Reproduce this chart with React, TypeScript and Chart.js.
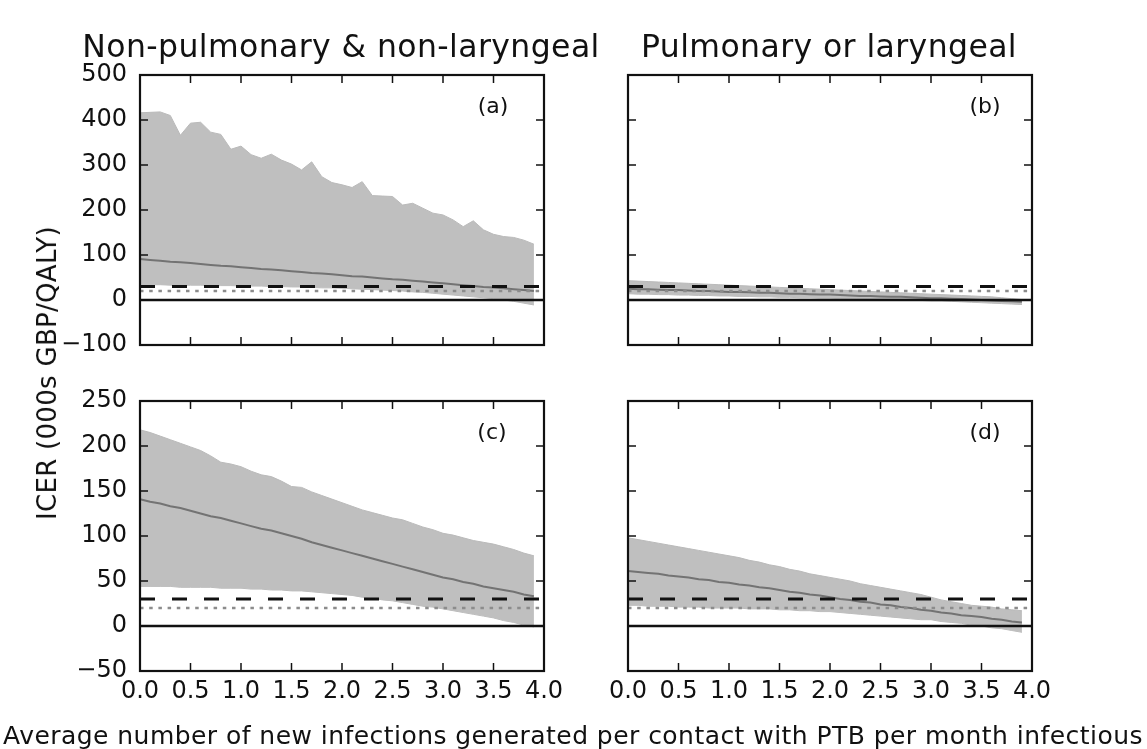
import React, { useEffect, useRef } from "react";
import { Chart, registerables } from "chart.js";

Chart.register(...registerables);

const FONT = "'DejaVu Sans', sans-serif";
const W = 1147;
const H = 749;

// ---- data ----
const xs = [0, 0.1, 0.2, 0.3, 0.4, 0.5, 0.6, 0.7, 0.8, 0.9, 1.0, 1.1, 1.2, 1.3, 1.4, 1.5, 1.6, 1.7, 1.8, 1.9,
  2.0, 2.1, 2.2, 2.3, 2.4, 2.5, 2.6, 2.7, 2.8, 2.9, 3.0, 3.1, 3.2, 3.3, 3.4, 3.5, 3.6, 3.7, 3.8, 3.9];

const aUpper = [416, 417, 418, 410, 366, 393, 395, 373, 368, 335, 342, 323, 315, 324, 311, 302, 289, 307, 274, 261,
  256, 250, 263, 232, 231, 230, 211, 215, 204, 193, 189, 178, 163, 176, 156, 146, 141, 139, 133, 124];
const aLower = [34, 34, 34, 33, 33, 33, 33, 32, 32, 32, 31, 31, 31, 30, 30, 29, 29, 28, 27, 27,
  26, 25, 24, 23, 22, 21, 20, 18, 17, 15, 13, 11, 9, 7, 5, 3, 0, -3, -7, -11];
const aMean = [91, 89, 87, 85, 84, 82, 80, 78, 76, 75, 73, 71, 69, 68, 66, 64, 62, 60, 59, 57,
  55, 53, 52, 50, 48, 46, 45, 43, 41, 39, 37, 35, 33, 31, 29, 28, 26, 24, 22, 20];

const bUpper = [43, 42, 41, 40, 39, 38, 37, 36, 35, 34, 33, 32, 31, 30, 29, 28, 27, 26, 25, 24,
  23, 22, 21, 20, 19, 18, 17, 16, 15, 14, 13, 12, 11, 10, 9, 8, 7, 5, 3, 1];
const bLower = [14, 13, 13, 12, 12, 11, 11, 10, 10, 9, 9, 8, 8, 7, 7, 6, 6, 5, 5, 4,
  4, 3, 3, 2, 2, 1, 1, 0, 0, -1, -2, -2, -3, -4, -5, -6, -7, -8, -9, -10];
const bMean = [25, 24, 24, 23, 22, 22, 21, 20, 20, 19, 18, 18, 17, 16, 16, 15, 14, 14, 13, 12,
  12, 11, 10, 9, 9, 8, 7, 7, 6, 5, 4, 4, 3, 2, 1, 0, -1, -2, -3, -4];

const cUpper = [218, 215, 211, 207, 203, 199, 195, 189, 182, 180, 177, 172, 168, 166, 161, 155, 154, 149, 145, 141,
  137, 133, 129, 126, 123, 120, 118, 114, 110, 107, 103, 101, 98, 95, 93, 91, 88, 85, 81, 78];
const cLower = [44, 44, 44, 44, 43, 43, 43, 43, 42, 42, 42, 41, 41, 40, 40, 39, 39, 38, 37, 36,
  35, 34, 32, 31, 29, 28, 26, 24, 22, 21, 19, 17, 15, 13, 11, 9, 6, 4, 1, -1];
const cMean = [141, 138, 136, 133, 131, 128, 125, 122, 120, 117, 114, 111, 108, 106, 103, 100, 97, 93, 90, 87,
  84, 81, 78, 75, 72, 69, 66, 63, 60, 57, 54, 52, 49, 47, 44, 42, 40, 38, 35, 33];

const dUpper = [98, 96, 94, 92, 90, 88, 86, 84, 82, 80, 78, 76, 73, 71, 68, 66, 63, 61, 58, 56,
  54, 52, 50, 47, 45, 43, 41, 39, 37, 35, 32, 29, 27, 25, 23, 22, 21, 19, 18, 17];
const dLower = [23, 23, 22, 22, 22, 21, 21, 21, 20, 20, 20, 20, 19, 19, 19, 18, 18, 17, 17, 16,
  16, 15, 14, 13, 12, 11, 10, 9, 8, 7, 7, 5, 4, 3, 1, 0, -2, -3, -5, -7];
const dMean = [61, 60, 59, 58, 56, 55, 54, 52, 51, 49, 48, 46, 45, 43, 42, 40, 38, 37, 35, 34,
  32, 30, 29, 27, 26, 24, 23, 21, 20, 18, 17, 15, 14, 12, 11, 10, 8, 7, 5, 4];

const thresholdDashed = 30; // £30k/QALY
const thresholdDotted = 20; // £20k/QALY
const xRange = [0, 4];
const topYRange = [-100, 500];
const bottomYRange = [-50, 250];
const topYStep = 100;
const bottomYStep = 50;
const xStep = 0.5;

const titles = ["Non-pulmonary & non-laryngeal", "Pulmonary or laryngeal"];
const panelLabels = ["(a)", "(b)", "(c)", "(d)"];
const yTitle = "ICER (000s GBP/QALY)";
const xTitle = "Average number of new infections generated per contact with PTB per month infectious";

// ---- layout ----
const YW = 110;
type Area = { left: number; top: number; right: number; bottom: number };
type Panel = {
  area: Area;
  upper: number[];
  lower: number[];
  mean: number[];
  yRange: number[];
  yStep: number;
  showX: boolean;
  showY: boolean;
};

const panels: Panel[] = [
  { area: { left: 140, top: 75, right: 544, bottom: 345 }, upper: aUpper, lower: aLower, mean: aMean, yRange: topYRange, yStep: topYStep, showX: false, showY: true },
  { area: { left: 628, top: 75, right: 1032, bottom: 345 }, upper: bUpper, lower: bLower, mean: bMean, yRange: topYRange, yStep: topYStep, showX: false, showY: false },
  { area: { left: 140, top: 401, right: 544, bottom: 671 }, upper: cUpper, lower: cLower, mean: cMean, yRange: bottomYRange, yStep: bottomYStep, showX: true, showY: true },
  { area: { left: 628, top: 401, right: 1032, bottom: 671 }, upper: dUpper, lower: dLower, mean: dMean, yRange: bottomYRange, yStep: bottomYStep, showX: true, showY: false },
];

const pts = (arr: number[]) => xs.map((x, i) => ({ x, y: arr[i] }));
const flat = (v: number) => [{ x: xRange[0], y: v }, { x: xRange[1], y: v }];
const fmtNum = (v: number) => (v < 0 ? "\u2212" + Math.abs(v) : String(v));

const framePlugin = {
  id: "frame",
  afterDatasetsDraw(chart: any) {
    const { ctx, chartArea: a, scales } = chart;
    const TL = 8;
    ctx.save();
    ctx.strokeStyle = "#111";
    ctx.lineWidth = 1.5;
    const line = (x1: number, y1: number, x2: number, y2: number) => {
      ctx.beginPath();
      ctx.moveTo(x1, y1);
      ctx.lineTo(x2, y2);
      ctx.stroke();
    };
    scales.x.ticks.forEach((t: any) => {
      const px = scales.x.getPixelForValue(t.value);
      if (px <= a.left + 1 || px >= a.right - 1) return;
      line(px, a.top, px, a.top + TL);
      line(px, a.bottom, px, a.bottom - TL);
    });
    scales.y.ticks.forEach((t: any) => {
      const py = scales.y.getPixelForValue(t.value);
      if (py <= a.top + 1 || py >= a.bottom - 1) return;
      line(a.left, py, a.left + TL, py);
      line(a.right, py, a.right - TL, py);
    });
    ctx.lineWidth = 2.2;
    ctx.strokeRect(a.left, a.top, a.right - a.left, a.bottom - a.top);
    ctx.restore();
  },
};

function makeConfig(p: Panel): any {
  const XH = p.showX ? 40 : 0;
  return {
    type: "line",
    data: {
      datasets: [
        { data: flat(0), borderColor: "#111", borderWidth: 2.5, pointRadius: 0, fill: false, order: 1 },
        { data: flat(thresholdDotted), borderColor: "#8c8c8c", borderWidth: 2.5, borderDash: [3.5, 5.7], pointRadius: 0, fill: false, order: 2 },
        { data: flat(thresholdDashed), borderColor: "#111", borderWidth: 3, borderDash: [15, 17], pointRadius: 0, fill: false, order: 3 },
        { data: pts(p.mean), borderColor: "#737373", borderWidth: 2, pointRadius: 0, fill: false, order: 4 },
        { data: pts(p.upper), borderColor: "#bababa", borderWidth: 1, backgroundColor: "#bfbfbf", pointRadius: 0, fill: 5, order: 6 },
        { data: pts(p.lower), borderColor: "#bababa", borderWidth: 1, pointRadius: 0, fill: false, order: 6 },
      ],
    },
    options: {
      animation: false,
      responsive: false,
      events: [],
      layout: {
        padding: {
          left: p.area.left - YW,
          top: p.area.top,
          right: W - p.area.right,
          bottom: H - p.area.bottom - XH,
        },
      },
      plugins: { legend: { display: false }, tooltip: { enabled: false }, title: { display: false } },
      elements: { line: { tension: 0 }, point: { radius: 0 } },
      scales: {
        x: {
          type: "linear",
          min: xRange[0],
          max: xRange[1],
          grid: { display: false, drawTicks: false },
          border: { display: false },
          ticks: {
            display: p.showX,
            stepSize: xStep,
            autoSkip: false,
            maxRotation: 0,
            minRotation: 0,
            padding: 6,
            color: "#111",
            font: { family: FONT, size: 24 },
            callback: (v: number) => Number(v).toFixed(1),
          },
          afterFit: (s: any) => { s.height = XH; },
        },
        y: {
          type: "linear",
          min: p.yRange[0],
          max: p.yRange[1],
          grid: { display: false, drawTicks: false },
          border: { display: false },
          ticks: {
            display: p.showY,
            stepSize: p.yStep,
            padding: 13,
            color: "#111",
            font: { family: FONT, size: 24 },
            callback: (v: number) => fmtNum(Number(v)),
          },
          afterFit: (s: any) => { s.width = YW; },
        },
      },
    },
    plugins: [framePlugin],
  };
}

export default function App() {
  const r0 = useRef<HTMLCanvasElement>(null);
  const r1 = useRef<HTMLCanvasElement>(null);
  const r2 = useRef<HTMLCanvasElement>(null);
  const r3 = useRef<HTMLCanvasElement>(null);
  const refs = [r0, r1, r2, r3];

  useEffect(() => {
    const charts = panels.map((p, i) => new Chart(refs[i].current as HTMLCanvasElement, makeConfig(p)));
    return () => charts.forEach((c) => c.destroy());
  }, []);

  const text = (s: string, x: number, y: number, size: number, spacing = 0, rotate = false) => (
    <div
      key={s + x + y}
      style={{
        position: "absolute",
        left: x,
        top: y,
        transform: "translate(-50%, -50%)" + (rotate ? " rotate(-90deg)" : ""),
        fontSize: size,
        letterSpacing: spacing,
        lineHeight: 1,
        whiteSpace: "nowrap",
        color: "#111",
        fontFamily: FONT,
      }}
    >
      {s}
    </div>
  );

  return (
    <div style={{ position: "absolute", left: 0, top: 0, width: W, height: H, background: "#fff", overflow: "hidden" }}>
      {refs.map((r, i) => (
        <canvas key={i} ref={r} width={W} height={H} style={{ position: "absolute", left: 0, top: 0 }} />
      ))}
      {text(titles[0], 341, 47, 31.5, 0.4)}
      {text(titles[1], 829, 47, 31.5, 0.4)}
      {text(panelLabels[0], 493, 106, 22)}
      {text(panelLabels[1], 985, 106, 22)}
      {text(panelLabels[2], 492, 432, 22)}
      {text(panelLabels[3], 985, 432, 22)}
      {text(yTitle, 47, 373, 26, 0.3, true)}
      {text(xTitle, 573, 735, 25, 0.45)}
    </div>
  );
}
